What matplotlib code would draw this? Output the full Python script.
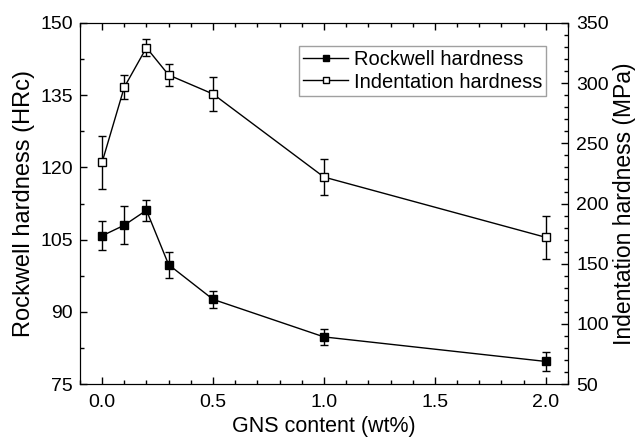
import matplotlib
matplotlib.use('Agg')
import matplotlib.pyplot as plt
from matplotlib.ticker import MultipleLocator
from matplotlib.lines import Line2D

plt.rcParams['font.family'] = ['Liberation Sans', 'DejaVu Sans']

# GNS content (wt%)
gns = [0.0, 0.1, 0.2, 0.3, 0.5, 1.0, 2.0]

# Rockwell hardness (HRc) and error
rockwell = [105.8, 108.0, 111.1, 99.8, 92.6, 84.8, 79.7]
rockwell_err = [3.0, 4.0, 2.2, 2.7, 1.7, 1.7, 2.0]

# Indentation hardness (MPa) and error
indent = [234.2, 296.6, 329.5, 306.8, 291.0, 222.0, 171.9]
indent_err = [22.0, 10.0, 7.0, 9.0, 14.5, 15.0, 18.0]

fig = plt.figure(figsize=(6.39, 4.42), dpi=100)
ax = fig.add_axes([0.125, 0.131, 0.764, 0.817])
ax2 = ax.twinx()

ax.errorbar(gns, rockwell, yerr=rockwell_err, color='black', marker='s',
            markersize=6, markerfacecolor='black', linewidth=1,
            elinewidth=1, capsize=3, capthick=1)
ax2.errorbar(gns, indent, yerr=indent_err, color='black', marker='s',
             markersize=6, markerfacecolor='white', linewidth=1,
             elinewidth=1, capsize=3, capthick=1)

ax.set_xlim(-0.1, 2.1)
ax.set_ylim(75, 150)
ax2.set_ylim(50, 350)

ax.xaxis.set_major_locator(MultipleLocator(0.5))
ax.xaxis.set_minor_locator(MultipleLocator(0.1))
ax.yaxis.set_major_locator(MultipleLocator(15))
ax.yaxis.set_minor_locator(MultipleLocator(7.5))
ax2.yaxis.set_major_locator(MultipleLocator(50))
ax2.yaxis.set_minor_locator(MultipleLocator(10))
ax.xaxis.set_major_formatter(plt.FormatStrFormatter('%.1f'))

ax.tick_params(axis='x', which='both', direction='in', top=True, labelsize=14, pad=7)
ax.tick_params(axis='y', which='both', direction='in', labelsize=14, pad=5)
ax2.tick_params(axis='y', which='both', direction='in', labelsize=14, pad=6)
for a in (ax, ax2):
    a.tick_params(which='major', length=5, width=1)
    a.tick_params(which='minor', length=3, width=1)

ax.set_xlabel('GNS content (wt%)', fontsize=15.5, labelpad=4)
ax.set_ylabel('Rockwell hardness (HRc)', fontsize=17, labelpad=4)
ax2.set_ylabel('Indentation hardness (MPa)', fontsize=16.5, labelpad=3)

handles = [
    Line2D([], [], color='black', marker='s', markersize=4.5,
           markerfacecolor='black', linewidth=1),
    Line2D([], [], color='black', marker='s', markersize=4.5,
           markerfacecolor='white', linewidth=1),
]
leg = ax.legend(handles, ['Rockwell hardness', 'Indentation hardness'],
                loc='upper right', bbox_to_anchor=(0.955, 0.935), fontsize=14.5,
                fancybox=False, edgecolor='#888888', handlelength=2.2,
                handletextpad=0.3, borderpad=0.2, labelspacing=0.15,
                borderaxespad=0)
leg.get_frame().set_linewidth(1)

fig.savefig('out.png', dpi=100)
